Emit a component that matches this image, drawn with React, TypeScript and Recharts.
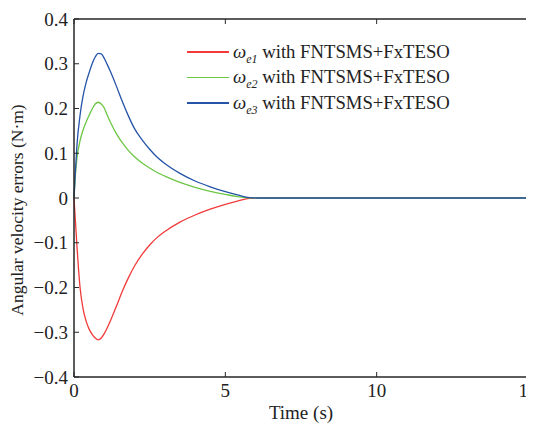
import React from "react"
import { LineChart, Line, XAxis, YAxis, Legend } from "recharts"

// time samples (s) and the three angular velocity error traces
const time = [0, 0.05, 0.1, 0.2, 0.3, 0.4, 0.5, 0.6, 0.7, 0.8, 0.9, 1.0, 1.1, 1.2, 1.4, 1.6, 1.8, 2.0, 2.25, 2.5, 2.75, 3.0, 3.5, 4.0, 4.5, 5.0, 5.4, 5.8, 6.2, 10, 15]
const we1 = [0, -0.055, -0.11, -0.2, -0.248, -0.275, -0.293, -0.305, -0.313, -0.317, -0.313, -0.303, -0.29, -0.275, -0.242, -0.208, -0.178, -0.152, -0.126, -0.105, -0.088, -0.075, -0.054, -0.038, -0.025, -0.014, -0.007, -0.001, 0, 0, 0]
const we2 = [0, 0.055, 0.09, 0.128, 0.152, 0.17, 0.185, 0.199, 0.21, 0.214, 0.21, 0.201, 0.185, 0.17, 0.144, 0.123, 0.106, 0.092, 0.078, 0.067, 0.057, 0.049, 0.035, 0.024, 0.015, 0.008, 0.003, 0.0005, 0, 0, 0]
const we3 = [0, 0.065, 0.12, 0.185, 0.228, 0.258, 0.28, 0.3, 0.315, 0.323, 0.322, 0.312, 0.298, 0.283, 0.25, 0.215, 0.183, 0.155, 0.13, 0.109, 0.091, 0.077, 0.055, 0.038, 0.025, 0.014, 0.007, 0.001, 0, 0, 0]

const xTicks = [0, 5, 10, 15]
const yTicks = [-0.4, -0.3, -0.2, -0.1, 0, 0.1, 0.2, 0.3, 0.4]
const seriesKeys = ["we1", "we2", "we3"]
const seriesSubs = ["e1", "e2", "e3"]
const COLORS = ["#f23a3a", "#6cc644", "#2553a8"]

const data = time.map((t, i) => ({ t, we1: we1[i], we2: we2[i], we3: we3[i] }))

const FONT = "'Liberation Serif', 'Times New Roman', serif"
const AXIS = "#262626"
const FS = 19

const fmtY = (v: number) => {
  if (v === 0) return "0"
  const s = Math.abs(v).toFixed(1)
  return v < 0 ? `\u2212${s}` : s
}

const BottomTick = (props: any) => {
  const { x, y, payload } = props
  return (
    <g>
      <line x1={x} y1={y} x2={x} y2={y - 5} stroke={AXIS} />
      <text x={x} y={y + 20} textAnchor="middle" fontFamily={FONT} fontSize={FS} fill="#222">
        {payload.value}
      </text>
    </g>
  )
}

const TopTick = (props: any) => {
  const { x, y } = props
  return <line x1={x} y1={y} x2={x} y2={y + 5} stroke={AXIS} />
}

const LeftTick = (props: any) => {
  const { x, y, payload } = props
  return (
    <g>
      <line x1={x} y1={y} x2={x + 5} y2={y} stroke={AXIS} />
      <text x={x - 6} y={y + 6.5} textAnchor="end" fontFamily={FONT} fontSize={FS} fill="#222">
        {fmtY(payload.value)}
      </text>
    </g>
  )
}

const RightTick = (props: any) => {
  const { x, y } = props
  return <line x1={x} y1={y} x2={x - 5} y2={y} stroke={AXIS} />
}

const YLabel = (props: any) => {
  const vb = props.viewBox || {}
  const cx = (vb.x || 0) + 9
  const cy = (vb.y || 0) + (vb.height || 0) / 2 + 12
  return (
    <text x={cx} y={cy} transform={`rotate(-90, ${cx}, ${cy})`} textAnchor="middle" dominantBaseline="central"
      fontFamily={FONT} fontSize={17.5} fill="#222">
      Angular velocity errors (N·m)
    </text>
  )
}

const XLabel = (props: any) => {
  const vb = props.viewBox || {}
  const cx = (vb.x || 0) + (vb.width || 0) / 2
  const cy = (vb.y || 0) + 42
  return (
    <text x={cx} y={cy} textAnchor="middle" fontFamily={FONT} fontSize={FS} fill="#222">
      Time (s)
    </text>
  )
}

const LegendBox = () => (
  <div style={{ fontFamily: FONT, fontSize: 18.7, color: "#222" }}>
    {seriesSubs.map((sub, i) => (
      <div key={sub} style={{ display: "flex", alignItems: "center", height: 25.5 }}>
        <div style={{ width: 42, height: 1.5, background: COLORS[i], marginRight: 4 }} />
        <span style={{ whiteSpace: "nowrap", lineHeight: "20px" }}>
          <i>ω</i>
          <sub style={{ fontSize: 12, lineHeight: 0 }}><i>{sub}</i></sub> with FNTSMS+FxTESO
        </span>
      </div>
    ))}
  </div>
)

export default function App() {
  return (
    <div style={{ width: 526, height: 418 }}>
      <style>{".recharts-surface, .recharts-wrapper{overflow:visible !important}"}</style>
      <LineChart width={526} height={418} data={data} margin={{ top: 10, right: 5, left: 0, bottom: 0 }}>
        <XAxis
          dataKey="t"
          type="number"
          domain={[0, 15]}
          ticks={xTicks}
          xAxisId="bottom"
          orientation="bottom"
          height={49}
          axisLine={{ stroke: AXIS, strokeWidth: 1.5 }}
          tickLine={false}
          tickSize={0}
          tickMargin={0}
          tick={<BottomTick />}
          interval={0}
          label={<XLabel />}
        />
        <XAxis
          dataKey="t"
          type="number"
          domain={[0, 15]}
          ticks={xTicks}
          xAxisId="top"
          orientation="top"
          height={1}
          axisLine={{ stroke: AXIS, strokeWidth: 1.5 }}
          tickLine={false}
          tickSize={0}
          tickMargin={0}
          tick={<TopTick />}
          interval={0}
        />
        <YAxis
          yAxisId="left"
          type="number"
          domain={[-0.4, 0.4]}
          ticks={yTicks}
          width={66}
          axisLine={{ stroke: AXIS, strokeWidth: 1.5 }}
          tickLine={false}
          tickSize={0}
          tickMargin={0}
          tick={<LeftTick />}
          interval={0}
          label={<YLabel />}
        />
        <YAxis
          yAxisId="right"
          orientation="right"
          type="number"
          domain={[-0.4, 0.4]}
          ticks={yTicks}
          width={1}
          axisLine={{ stroke: AXIS, strokeWidth: 1.5 }}
          tickLine={false}
          tickSize={0}
          tickMargin={0}
          tick={<RightTick />}
          interval={0}
        />
        <Legend
          layout="vertical"
          align="center"
          verticalAlign="middle"
          content={<LegendBox />}
          wrapperStyle={{ position: "absolute", top: 31, left: 179, width: "auto", height: "auto" }}
        />
        {seriesKeys.map((k, i) => (
          <Line
            key={k}
            xAxisId="bottom"
            yAxisId="left"
            type="monotone"
            dataKey={k}
            stroke={COLORS[i]}
            strokeWidth={1.3}
            dot={false}
            activeDot={false}
            isAnimationActive={false}
          />
        ))}
      </LineChart>
    </div>
  )
}
